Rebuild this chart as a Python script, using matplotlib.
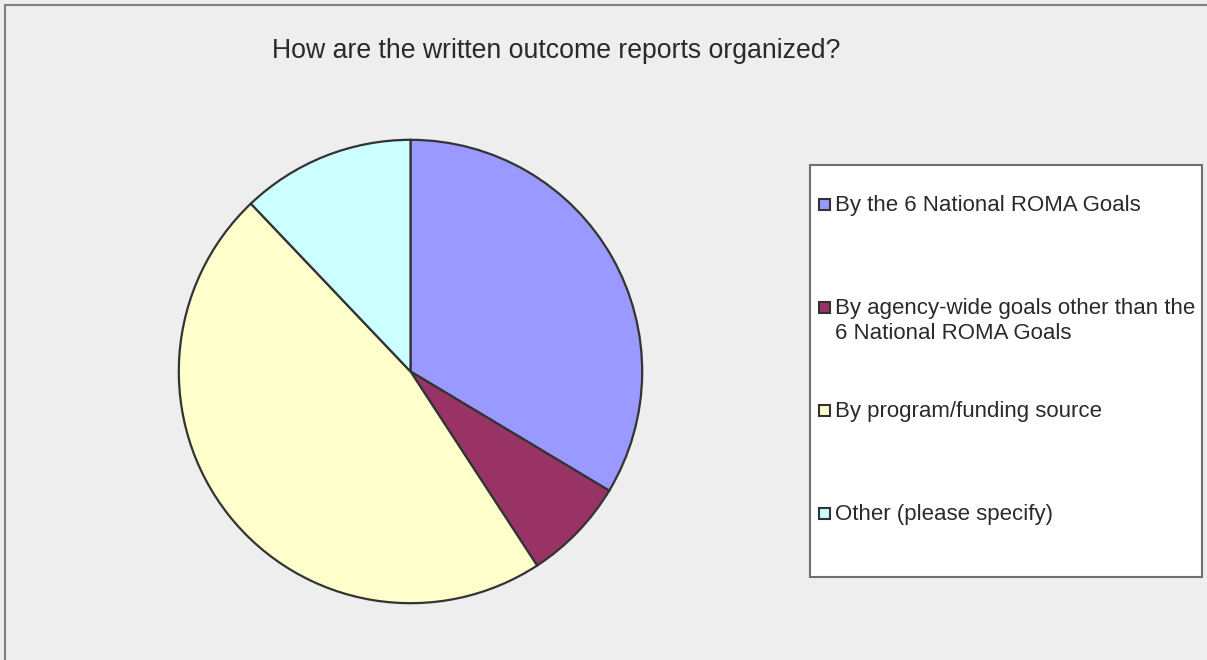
import matplotlib
matplotlib.use("Agg")
import matplotlib.pyplot as plt
from matplotlib.patches import Rectangle

# Survey answers and their share of responses (percent)
categories = [
    "By the 6 National ROMA Goals",
    "By agency-wide goals other than the\n6 National ROMA Goals",
    "By program/funding source",
    "Other (please specify)",
]
shares = [33.6, 7.2, 47.1, 12.1]
colors = ["#9999FF", "#993366", "#FFFFCC", "#CCFFFF"]
title = "How are the written outcome reports organized?"

W, H = 1207, 660
fig = plt.figure(figsize=(W / 100, H / 100), dpi=100, facecolor="#EEEEEE")
plt.rcParams["font.family"] = ["Liberation Sans", "DejaVu Sans"]


def fx(px):
    return px / W


def fy(py):
    return 1 - py / H


# outer chart frame (only the top and left edges fall inside the image)
fig.patches.append(Rectangle((fx(5), fy(700)), fx(1300), (700 - 5) / H,
                             transform=fig.transFigure, facecolor="none",
                             edgecolor="#808080", linewidth=1.5, zorder=0))

# pie
cx, cy, r = 410.5, 371.5, 234
ax = fig.add_axes([fx(cx - r), fy(cy + r), 2 * r / W, 2 * r / H])
ax.set_facecolor("none")
ax.pie(shares, colors=colors, startangle=90, counterclock=False, radius=1,
       wedgeprops=dict(edgecolor="#333333", linewidth=1.6))
ax.set_xlim(-1.01, 1.01)
ax.set_ylim(-1.01, 1.01)
ax.set_aspect("equal")
ax.axis("off")

fig.text(fx(272), fy(58.5), title, ha="left", va="baseline", fontsize=19.2,
         color="#2a2a2a")

# legend box
lx0, ly0, lx1, ly1 = 810, 165, 1202, 577
fig.patches.append(Rectangle((fx(lx0), fy(ly1)), fx(lx1 - lx0), (ly1 - ly0) / H,
                             transform=fig.transFigure, facecolor="white",
                             edgecolor="#707070", linewidth=1.5, zorder=1))
row_y = [204.5, 307.5, 410.5, 513.5]
line_gap = 24.6
for label, color, y in zip(categories, colors, row_y):
    fig.patches.append(Rectangle((fx(818.5), fy(y + 5.75)), fx(11.5), 11.5 / H,
                                 transform=fig.transFigure, facecolor=color,
                                 edgecolor="#333333", linewidth=1.5, zorder=2))
    # wrapped labels hang down from the marker row
    for i, line in enumerate(label.split("\n")):
        fig.text(fx(835), fy(y + 6.5 + i * line_gap), line, ha="left",
                 va="baseline", fontsize=16, color="#2a2a2a", zorder=3)

fig.savefig("out.png", dpi=100, facecolor=fig.get_facecolor())
